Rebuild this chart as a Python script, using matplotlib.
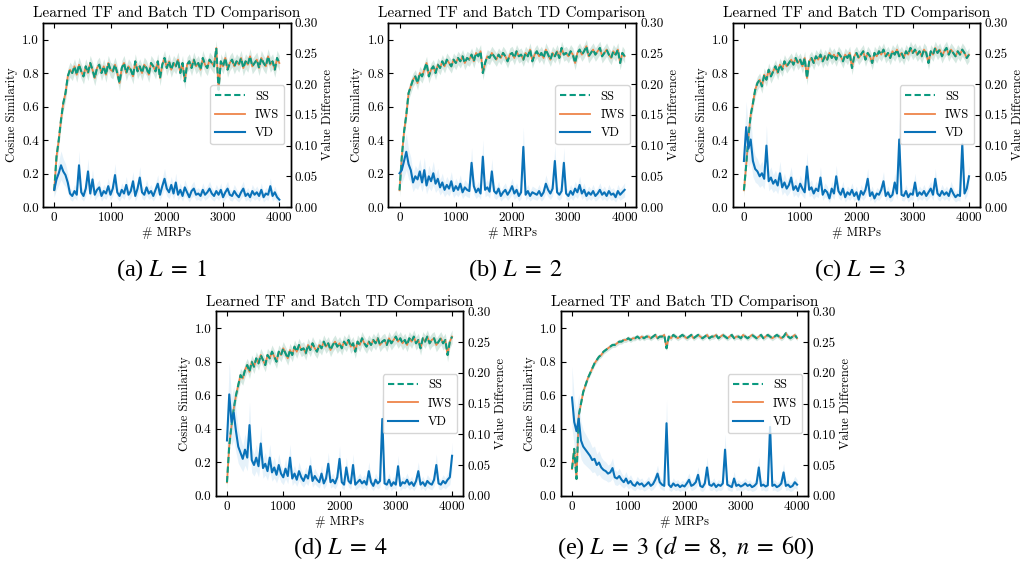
import numpy as np
import matplotlib
matplotlib.use("Agg")
import matplotlib.pyplot as plt

plt.rcParams['font.family'] = 'serif'
plt.rcParams['font.serif'] = ['cmr10', 'DejaVu Serif']
plt.rcParams['mathtext.fontset'] = 'cm'
plt.rcParams['axes.formatter.use_mathtext'] = True
plt.rcParams['font.size'] = 9

# number of MRPs seen (sampled every 40)
mrps = np.arange(0, 4001, 40)

# panel (a) L = 1
ss_a = [0.10, 0.30, 0.40, 0.52, 0.62, 0.68, 0.78, 0.82, 0.80, 0.84,
        0.79, 0.85, 0.81, 0.78, 0.84, 0.80, 0.86, 0.82, 0.77, 0.83,
        0.85, 0.80, 0.84, 0.79, 0.86, 0.82, 0.81, 0.85, 0.80, 0.74,
        0.83, 0.86, 0.80, 0.84, 0.82, 0.78, 0.87, 0.81, 0.84, 0.80,
        0.85, 0.83, 0.79, 0.86, 0.84, 0.81, 0.87, 0.77, 0.85, 0.89,
        0.83, 0.87, 0.82, 0.86, 0.84, 0.88, 0.80, 0.86, 0.75, 0.85,
        0.87, 0.83, 0.88, 0.84, 0.86, 0.82, 0.89, 0.85, 0.83, 0.88,
        0.86, 0.84, 0.95, 0.70, 0.87, 0.84, 0.89, 0.82, 0.86, 0.88,
        0.84, 0.87, 0.85, 0.89, 0.83, 0.87, 0.85, 0.90, 0.84, 0.86,
        0.88, 0.83, 0.89, 0.86, 0.84, 0.90, 0.85, 0.87, 0.82, 0.89, 0.86]
vd_a = [0.028, 0.045, 0.055, 0.068, 0.058, 0.052, 0.040, 0.022, 0.018, 0.026,
        0.020, 0.068, 0.024, 0.018, 0.030, 0.058, 0.022, 0.045, 0.020, 0.028,
        0.032, 0.018, 0.026, 0.022, 0.034, 0.020, 0.030, 0.052, 0.024, 0.018,
        0.028, 0.022, 0.036, 0.020, 0.026, 0.042, 0.018, 0.030, 0.048, 0.024,
        0.020, 0.032, 0.022, 0.026, 0.018, 0.028, 0.038, 0.020, 0.034, 0.046,
        0.030, 0.024, 0.036, 0.022, 0.040, 0.020, 0.028, 0.018, 0.032, 0.024,
        0.016, 0.026, 0.030, 0.020, 0.022, 0.018, 0.028, 0.020, 0.024, 0.030,
        0.022, 0.018, 0.026, 0.020, 0.028, 0.016, 0.024, 0.030, 0.020, 0.018,
        0.026, 0.020, 0.016, 0.024, 0.030, 0.018, 0.022, 0.016, 0.026, 0.020,
        0.024, 0.018, 0.028, 0.016, 0.022, 0.020, 0.034, 0.018, 0.024, 0.016, 0.012]

# panel (b) L = 2
ss_b = [0.10, 0.30, 0.45, 0.55, 0.68, 0.72, 0.76, 0.78, 0.74, 0.80,
        0.78, 0.82, 0.86, 0.78, 0.82, 0.84, 0.80, 0.85, 0.83, 0.87,
        0.84, 0.88, 0.86, 0.84, 0.88, 0.86, 0.89, 0.87, 0.90, 0.86,
        0.89, 0.88, 0.91, 0.87, 0.92, 0.90, 0.93, 0.80, 0.86, 0.90,
        0.89, 0.92, 0.90, 0.88, 0.91, 0.89, 0.92, 0.90, 0.87, 0.91,
        0.92, 0.89, 0.93, 0.90, 0.91, 0.88, 0.92, 0.90, 0.94, 0.87,
        0.91, 0.93, 0.90, 0.92, 0.89, 0.94, 0.91, 0.88, 0.92, 0.90,
        0.93, 0.89, 0.95, 0.91, 0.92, 0.90, 0.93, 0.91, 0.86, 0.92,
        0.94, 0.91, 0.93, 0.96, 0.90, 0.92, 0.94, 0.91, 0.93, 0.95,
        0.90, 0.92, 0.94, 0.91, 0.89, 0.93, 0.91, 0.94, 0.86, 0.92, 0.90]
vd_b = [0.055, 0.060, 0.075, 0.090, 0.070, 0.060, 0.040, 0.050, 0.045, 0.058,
        0.040, 0.060, 0.035, 0.050, 0.042, 0.055, 0.038, 0.046, 0.032, 0.040,
        0.028, 0.036, 0.030, 0.042, 0.026, 0.034, 0.028, 0.038, 0.024, 0.032,
        0.028, 0.026, 0.072, 0.034, 0.024, 0.030, 0.022, 0.082, 0.028, 0.032,
        0.025, 0.058, 0.026, 0.022, 0.030, 0.018, 0.024, 0.028, 0.020, 0.026,
        0.034, 0.022, 0.028, 0.018, 0.024, 0.098, 0.020, 0.026, 0.018, 0.024,
        0.022, 0.020, 0.026, 0.018, 0.024, 0.038, 0.028, 0.022, 0.030, 0.075,
        0.024, 0.020, 0.026, 0.072, 0.022, 0.018, 0.026, 0.020, 0.030, 0.024,
        0.036, 0.022, 0.028, 0.018, 0.024, 0.020, 0.026, 0.018, 0.022, 0.028,
        0.020, 0.024, 0.018, 0.026, 0.020, 0.022, 0.016, 0.026, 0.020, 0.024, 0.028]

# panel (c) L = 3
ss_c = [0.10, 0.25, 0.42, 0.55, 0.62, 0.70, 0.74, 0.76, 0.72, 0.79,
        0.76, 0.82, 0.78, 0.81, 0.84, 0.80, 0.85, 0.82, 0.87, 0.84,
        0.86, 0.88, 0.85, 0.89, 0.86, 0.88, 0.84, 0.89, 0.77, 0.87,
        0.89, 0.86, 0.90, 0.88, 0.91, 0.87, 0.90, 0.88, 0.92, 0.89,
        0.91, 0.88, 0.92, 0.90, 0.87, 0.91, 0.89, 0.92, 0.83, 0.90,
        0.92, 0.89, 0.91, 0.93, 0.88, 0.92, 0.90, 0.86, 0.92, 0.90,
        0.93, 0.91, 0.94, 0.90, 0.92, 0.89, 0.93, 0.91, 0.94, 0.90,
        0.92, 0.89, 0.93, 0.91, 0.95, 0.92, 0.94, 0.91, 0.93, 0.90,
        0.94, 0.92, 0.86, 0.93, 0.91, 0.95, 0.92, 0.94, 0.90, 0.93,
        0.95, 0.91, 0.94, 0.92, 0.90, 0.93, 0.91, 0.94, 0.92, 0.89, 0.91]
vd_c = [0.075, 0.130, 0.095, 0.110, 0.075, 0.062, 0.058, 0.050, 0.055, 0.046,
        0.100, 0.042, 0.048, 0.038, 0.044, 0.035, 0.055, 0.032, 0.040, 0.030,
        0.036, 0.048, 0.028, 0.034, 0.026, 0.038, 0.030, 0.024, 0.066, 0.028,
        0.032, 0.022, 0.030, 0.026, 0.048, 0.020, 0.028, 0.024, 0.014, 0.030,
        0.022, 0.050, 0.026, 0.020, 0.030, 0.016, 0.024, 0.020, 0.028, 0.018,
        0.024, 0.012, 0.026, 0.020, 0.028, 0.046, 0.018, 0.024, 0.014, 0.022,
        0.020, 0.028, 0.042, 0.018, 0.024, 0.016, 0.020, 0.040, 0.022, 0.110,
        0.020, 0.018, 0.026, 0.016, 0.022, 0.020, 0.040, 0.018, 0.024, 0.020,
        0.026, 0.018, 0.024, 0.030, 0.020, 0.046, 0.022, 0.018, 0.026, 0.020,
        0.024, 0.018, 0.030, 0.022, 0.016, 0.020, 0.018, 0.102, 0.022, 0.030, 0.050]

# panel (d) L = 4
ss_d = [0.08, 0.30, 0.42, 0.52, 0.60, 0.66, 0.72, 0.70, 0.75, 0.78,
        0.74, 0.80, 0.77, 0.82, 0.79, 0.84, 0.81, 0.78, 0.84, 0.82,
        0.86, 0.83, 0.80, 0.86, 0.84, 0.88, 0.85, 0.82, 0.87, 0.84,
        0.89, 0.86, 0.90, 0.87, 0.88, 0.85, 0.90, 0.87, 0.91, 0.88,
        0.86, 0.90, 0.88, 0.92, 0.89, 0.91, 0.87, 0.90, 0.92, 0.89,
        0.91, 0.88, 0.92, 0.90, 0.93, 0.89, 0.91, 0.86, 0.92, 0.90,
        0.94, 0.91, 0.89, 0.92, 0.90, 0.93, 0.91, 0.94, 0.90, 0.92,
        0.93, 0.90, 0.94, 0.91, 0.93, 0.95, 0.92, 0.94, 0.91, 0.93,
        0.90, 0.94, 0.92, 0.95, 0.91, 0.93, 0.88, 0.94, 0.92, 0.95,
        0.91, 0.93, 0.94, 0.90, 0.92, 0.94, 0.91, 0.93, 0.84, 0.92, 0.95]
vd_d = [0.090, 0.165, 0.120, 0.135, 0.105, 0.080, 0.070, 0.060, 0.075, 0.062,
        0.115, 0.058, 0.050, 0.062, 0.048, 0.085, 0.045, 0.052, 0.040, 0.062,
        0.038, 0.046, 0.034, 0.050, 0.036, 0.030, 0.044, 0.032, 0.062, 0.028,
        0.036, 0.026, 0.040, 0.030, 0.024, 0.034, 0.028, 0.048, 0.024, 0.032,
        0.026, 0.022, 0.036, 0.020, 0.028, 0.052, 0.022, 0.026, 0.020, 0.030,
        0.060, 0.022, 0.018, 0.046, 0.024, 0.020, 0.050, 0.018, 0.022, 0.026,
        0.020, 0.024, 0.018, 0.040, 0.022, 0.016, 0.026, 0.020, 0.024, 0.125,
        0.020, 0.018, 0.026, 0.016, 0.022, 0.018, 0.048, 0.016, 0.022, 0.020,
        0.026, 0.018, 0.022, 0.016, 0.024, 0.040, 0.018, 0.022, 0.016, 0.024,
        0.020, 0.018, 0.026, 0.050, 0.020, 0.018, 0.024, 0.020, 0.026, 0.030, 0.065]

# panel (e) L = 3, d = 8, n = 60
ss_e = [0.16, 0.28, 0.10, 0.48, 0.55, 0.62, 0.66, 0.70, 0.73, 0.76,
        0.79, 0.81, 0.83, 0.84, 0.86, 0.87, 0.88, 0.89, 0.90, 0.90,
        0.91, 0.92, 0.92, 0.93, 0.93, 0.94, 0.93, 0.94, 0.94, 0.95,
        0.94, 0.95, 0.94, 0.95, 0.95, 0.94, 0.95, 0.96, 0.94, 0.95,
        0.95, 0.96, 0.88, 0.95, 0.94, 0.96, 0.95, 0.94, 0.95, 0.96,
        0.95, 0.94, 0.95, 0.96, 0.94, 0.95, 0.96, 0.95, 0.94, 0.95,
        0.96, 0.94, 0.95, 0.95, 0.96, 0.94, 0.95, 0.96, 0.95, 0.94,
        0.95, 0.96, 0.94, 0.95, 0.95, 0.94, 0.96, 0.95, 0.94, 0.95,
        0.96, 0.95, 0.94, 0.95, 0.96, 0.94, 0.95, 0.96, 0.95, 0.94,
        0.95, 0.96, 0.95, 0.94, 0.95, 0.97, 0.95, 0.94, 0.95, 0.96, 0.94]
vd_e = [0.160, 0.120, 0.105, 0.125, 0.090, 0.080, 0.075, 0.070, 0.065, 0.058,
        0.060, 0.050, 0.054, 0.046, 0.042, 0.040, 0.036, 0.038, 0.045, 0.030,
        0.028, 0.032, 0.026, 0.022, 0.028, 0.020, 0.024, 0.018, 0.016, 0.022,
        0.018, 0.020, 0.015, 0.018, 0.022, 0.016, 0.019, 0.026, 0.036, 0.022,
        0.018, 0.016, 0.118, 0.018, 0.014, 0.020, 0.016, 0.018, 0.014, 0.017,
        0.015, 0.020, 0.026, 0.016, 0.018, 0.022, 0.034, 0.016, 0.014, 0.020,
        0.046, 0.018, 0.016, 0.020, 0.014, 0.018, 0.016, 0.020, 0.075, 0.018,
        0.016, 0.014, 0.028, 0.016, 0.018, 0.015, 0.017, 0.020, 0.016, 0.018,
        0.014, 0.016, 0.020, 0.046, 0.016, 0.018, 0.015, 0.017, 0.112, 0.016,
        0.018, 0.014, 0.016, 0.020, 0.038, 0.016, 0.018, 0.014, 0.016, 0.022, 0.018]

# IWS lies right on top of SS in every panel
panels = [
    ('(a) $L\\;=\\;1$', ss_a, ss_a, vd_a, 0.045),
    ('(b) $L\\;=\\;2$', ss_b, ss_b, vd_b, 0.04),
    ('(c) $L\\;=\\;3$', ss_c, ss_c, vd_c, 0.04),
    ('(d) $L\\;=\\;4$', ss_d, ss_d, vd_d, 0.04),
    ('(e) $L\\;=\\;3$ ($d\\;=\\;8,\\ n\\;=\\;60$)', ss_e, ss_e, vd_e, 0.015),
]

ss_col = '#0b9a80'
iws_col = '#ee854a'
vd_col = '#0a72b8'

# axes boxes in figure fraction, caption positions
boxes = [(0.0421, 0.6387), (0.3803, 0.6387), (0.7176, 0.6387),
         (0.2113, 0.1349), (0.5492, 0.1349)]
caps = [(0.158, 0.528), (0.505, 0.528), (0.842, 0.528),
        (0.333, 0.044), (0.672, 0.044)]
w, h = 0.2425, 0.3215

fig = plt.figure(figsize=(10.21, 5.73), dpi=100)

for (cap, ss, iws, vd, sd), (x0, y0), (cx, cy) in zip(panels, boxes, caps):
    ax = fig.add_axes([x0, y0, w, h])
    ax2 = ax.twinx()
    ss = np.array(ss)
    iws = np.array(iws)
    vd = np.array(vd)

    ax.fill_between(mrps, ss - sd, ss + sd, color='#5aa58a', alpha=0.25, lw=0)
    l_iws, = ax.plot(mrps, iws, color=iws_col, lw=1.3, label='IWS')
    l_ss, = ax.plot(mrps, ss, color=ss_col, lw=1.5, ls=(0, (3, 1.6)), label='SS')

    vd_sd = 0.3 * vd + 0.003
    ax2.fill_between(mrps, vd - vd_sd, vd + vd_sd, color='#5aa8e0', alpha=0.15, lw=0)
    l_vd, = ax2.plot(mrps, vd, color=vd_col, lw=1.5, label='VD')

    ax.set_xlim(-200, 4200)
    ax.set_ylim(0, 1.1)
    ax.set_xticks([0, 1000, 2000, 3000, 4000])
    ax.set_yticks([0.0, 0.2, 0.4, 0.6, 0.8, 1.0])
    ax2.set_ylim(0, 0.30)
    ax2.set_yticks([0.0, 0.05, 0.10, 0.15, 0.20, 0.25, 0.30])
    ax.yaxis.set_major_formatter(matplotlib.ticker.FormatStrFormatter('%.1f'))
    ax2.yaxis.set_major_formatter(matplotlib.ticker.FormatStrFormatter('%.2f'))

    ax.tick_params(direction='in', top=True, length=3.5, labelsize=9.5, pad=3)
    ax2.tick_params(direction='in', length=3.5, labelsize=9.5, pad=3)
    for a in (ax, ax2):
        for s in a.spines.values():
            s.set_linewidth(1.0)

    ax.set_title('Learned TF and Batch TD Comparison', fontsize=11, pad=4)
    ax.set_xlabel('# MRPs', fontsize=9, labelpad=2)
    ax.set_ylabel('Cosine Similarity', fontsize=9, labelpad=3)
    ax2.set_ylabel('Value Difference', fontsize=9, labelpad=3)

    ax2.legend([l_ss, l_iws, l_vd], ['SS', 'IWS', 'VD'], loc='center right',
               fontsize=9, handlelength=2.4, framealpha=0.8)

    fig.text(cx, cy, cap, ha='center', va='center', fontsize=17.5,
             family='Liberation Serif', math_fontfamily='stix')

plt.savefig('out.png', dpi=100)
